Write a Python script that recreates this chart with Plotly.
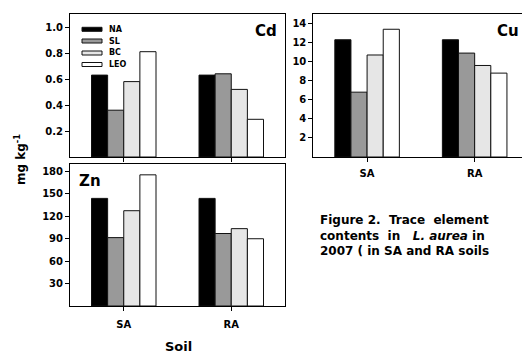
import plotly.graph_objects as go

soils = ["SA", "RA"]
series = ["NA", "SL", "BC", "LEO"]
colors = ["#000000", "#999999", "#e6e6e6", "#ffffff"]

cd_vals = {"NA": [0.63, 0.63], "SL": [0.36, 0.64], "BC": [0.58, 0.52], "LEO": [0.81, 0.29]}
zn_vals = {"NA": [144, 144], "SL": [91.5, 97], "BC": [127.5, 103.5], "LEO": [175.5, 90]}
cu_vals = {"NA": [12.3, 12.3], "SL": [6.8, 10.9], "BC": [10.7, 9.6], "LEO": [13.4, 8.8]}

cd_ticks = [0.2, 0.4, 0.6, 0.8, 1.0]
zn_ticks = [30, 60, 90, 120, 150, 180]
cu_ticks = [2, 4, 6, 8, 10, 12, 14]

W, H = 522, 356
FONT = "DejaVu Sans, Liberation Sans, Arial, sans-serif"


def px(x):
    return x / W


def py(y):
    return 1 - y / H


fig = go.Figure()
for panel, vals in (("x", cd_vals), ("x2", zn_vals), ("x3", cu_vals)):
    ya = {"x": "y", "x2": "y2", "x3": "y3"}[panel]
    for s, c in zip(series, colors):
        fig.add_trace(go.Bar(
            x=soils, y=vals[s], name=s, xaxis=panel, yaxis=ya,
            marker=dict(color=c, line=dict(color="#111111", width=1)),
            showlegend=False, hoverinfo="skip",
        ))

tickfont = dict(family=FONT, size=10, color="#000", weight="bold")
axis_common = dict(showline=True, linecolor="#000", linewidth=1, mirror=True,
                   ticks="outside", ticklen=4, tickcolor="#000", showgrid=False,
                   zeroline=False, tickfont=tickfont)

fig.update_layout(
    width=W, height=H, margin=dict(l=0, r=0, t=0, b=0),
    paper_bgcolor="white", plot_bgcolor="white",
    barmode="group", bargap=0.4, bargroupgap=0,
    xaxis=dict(domain=[px(70), px(285)], anchor="y", range=[-0.5, 1.5],
               showticklabels=False, **axis_common),
    yaxis=dict(domain=[py(157), py(14)], anchor="x", range=[0, 1.1],
               tickvals=cd_ticks, tickformat=".1f", **axis_common),
    xaxis2=dict(domain=[px(70), px(285)], anchor="y2", range=[-0.5, 1.5],
                ticklabelstandoff=5, **axis_common),
    yaxis2=dict(domain=[py(306), py(164)], anchor="x2", range=[0, 190],
                tickvals=zn_ticks, **axis_common),
    xaxis3=dict(domain=[px(313.3), 1.0], anchor="y3", range=[-0.5, 1.44],
                showline=True, linecolor="#000", linewidth=1, mirror=True,
                ticks="outside", ticklen=4, tickcolor="#000", showgrid=False,
                zeroline=False, tickfont=tickfont, ticklabelstandoff=3),
    yaxis3=dict(domain=[py(157), py(14)], anchor="x3", range=[0, 15],
                tickvals=cu_ticks, showline=True, linecolor="#000", linewidth=1,
                mirror=False, ticks="outside", ticklen=4, tickcolor="#000",
                showgrid=False, zeroline=False, tickfont=tickfont),
)

ann = []
big = dict(family=FONT, size=15, color="#000", weight="bold")
ann.append(dict(text="Cd", x=px(279), y=py(31), xref="paper", yref="paper",
                xanchor="right", yanchor="middle", showarrow=False, font=big))
ann.append(dict(text="Zn", x=px(77), y=py(181), xref="paper", yref="paper",
                xanchor="left", yanchor="middle", showarrow=False, font=big))
ann.append(dict(text="Cu", x=px(521), y=py(31), xref="paper", yref="paper",
                xanchor="right", yanchor="middle", showarrow=False, font=big))
ann.append(dict(text="mg kg<sup>-1</sup>", x=px(20), y=py(160), xref="paper", yref="paper",
                xanchor="center", yanchor="middle", showarrow=False, textangle=-90,
                font=dict(family=FONT, size=12, color="#000", weight="bold")))
ann.append(dict(text="Soil", x=px(178), y=py(346), xref="paper", yref="paper",
                xanchor="center", yanchor="middle", showarrow=False,
                font=dict(family=FONT, size=13, color="#000", weight="bold")))

nb = "\u00a0"
caption = (f"Figure 2.{nb}{nb}Trace{nb}{nb}element<br>"
           f"contents{nb}{nb}in{nb}{nb}{nb}<i>L. aurea</i> in<br>"
           "2007 ( in SA and RA soils")
ann.append(dict(text=caption, x=px(318), y=py(236), xref="paper", yref="paper",
                xanchor="left", yanchor="middle", align="left", showarrow=False,
                font=dict(family=FONT, size=12, color="#000", weight="bold")))

# legend (Cd panel)
shapes = []
leg_y = [29.3, 41, 53, 64.5]
for s, c, yy in zip(series, colors, leg_y):
    shapes.append(dict(type="rect", xref="paper", yref="paper",
                       x0=px(82), x1=px(102), y0=py(yy + 2), y1=py(yy - 2),
                       fillcolor=c, line=dict(color="#111", width=1)))
    ann.append(dict(text=s, x=px(107), y=py(yy), xref="paper", yref="paper",
                    xanchor="left", yanchor="middle", showarrow=False,
                    font=dict(family=FONT, size=8, color="#000", weight="bold")))

fig.update_layout(annotations=ann, shapes=shapes)
fig.write_html("out.html", config={"displayModeBar": False, "staticPlot": True},
               post_script="document.body.style.margin='0';document.body.style.overflow='hidden';")
